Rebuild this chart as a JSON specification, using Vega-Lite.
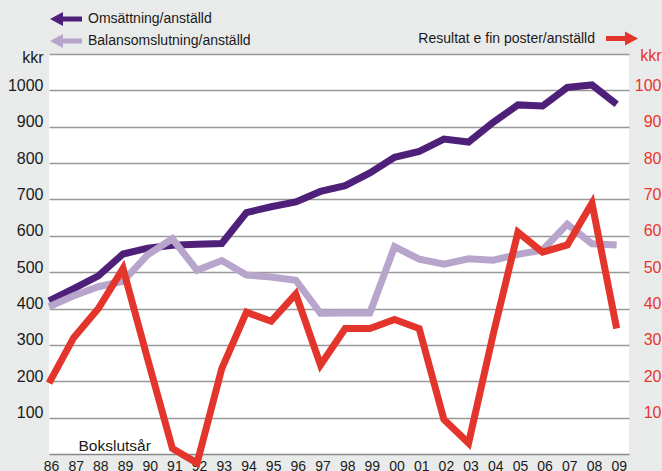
{
  "$schema": "https://vega.github.io/schema/vega-lite/v6.json",
  "width": 580,
  "height": 400,
  "autosize": {"type": "none"},
  "padding": {"left": 49, "top": 54, "right": 33, "bottom": 17},
  "background": "#e9ebea",
  "config": {"view": {"fill": "white", "stroke": null}, "font": "Liberation Sans"},
  "data": {"values": [
    {"year": 1986, "oms": 421, "bal": 405, "res": 19.5},
    {"year": 1987, "oms": 455, "bal": 435, "res": 32},
    {"year": 1988, "oms": 490, "bal": 460, "res": 40},
    {"year": 1989, "oms": 550, "bal": 475, "res": 51},
    {"year": 1990, "oms": 566, "bal": 548, "res": 26},
    {"year": 1991, "oms": 574, "bal": 592, "res": 1.5},
    {"year": 1992, "oms": 577, "bal": 505, "res": -2.5},
    {"year": 1993, "oms": 579, "bal": 532, "res": 23.5},
    {"year": 1994, "oms": 664, "bal": 492, "res": 39},
    {"year": 1995, "oms": 680, "bal": 487, "res": 36.5},
    {"year": 1996, "oms": 693, "bal": 478, "res": 44},
    {"year": 1997, "oms": 722, "bal": 387, "res": 24.5},
    {"year": 1998, "oms": 738, "bal": 388, "res": 34.5},
    {"year": 1999, "oms": 773, "bal": 388, "res": 34.5},
    {"year": 2000, "oms": 816, "bal": 570, "res": 37},
    {"year": 2001, "oms": 832, "bal": 536, "res": 34.5},
    {"year": 2002, "oms": 866, "bal": 522, "res": 9.5},
    {"year": 2003, "oms": 858, "bal": 537, "res": 3},
    {"year": 2004, "oms": 912, "bal": 533, "res": 33},
    {"year": 2005, "oms": 960, "bal": 549, "res": 61},
    {"year": 2006, "oms": 957, "bal": 561, "res": 55.5},
    {"year": 2007, "oms": 1008, "bal": 632, "res": 57.5},
    {"year": 2008, "oms": 1015, "bal": 578, "res": 69},
    {"year": 2009, "oms": 962, "bal": 575, "res": 34.5}
  ]},
  "encoding": {
    "x": {
      "field": "year", "type": "quantitative",
      "scale": {"domain": [1986, 2009.5], "nice": false, "zero": false},
      "axis": {
        "values": [1986,1987,1988,1989,1990,1991,1992,1993,1994,1995,1996,1997,1998,1999,2000,2001,2002,2003,2004,2005,2006,2007,2008,2009],
        "labelExpr": "substring(toString(datum.value), 2)",
        "domain": true, "domainColor": "#888888", "domainWidth": 1.5,
        "ticks": false, "grid": false,
        "labelFontSize": 14, "labelColor": "#1a1a1a", "labelPadding": 5,
        "labelBaseline": "top", "labelOffset": 2,
        "labelFlush": false, "labelOverlap": false,
        "title": "Bokslutsår", "titleX": 29, "titleY": -4,
        "titleAlign": "left", "titleBaseline": "alphabetic",
        "titleFontSize": 15.5, "titleFontWeight": "normal", "titleColor": "#1a1a1a"
      }
    }
  },
  "layer": [
    {
      "transform": [{"fold": ["oms", "bal"], "as": ["serie", "varde"]}],
      "mark": {"type": "line", "strokeWidth": 7, "strokeJoin": "miter", "strokeCap": "butt"},
      "encoding": {
        "y": {
          "field": "varde", "type": "quantitative",
          "scale": {"domain": [0, 1100], "nice": false, "zero": false},
          "axis": {
            "orient": "left", "title": null,
            "values": [100,200,300,400,500,600,700,800,900,1000,1100],
            "format": "d",
            "labelExpr": "datum.value == 1100 ? 'kkr' : datum.label",
            "domain": false, "ticks": false,
            "grid": true, "gridColor": "#999999", "gridWidth": 1.5,
            "labelFontSize": 16, "labelColor": "#1a1a1a",
            "labelBaseline": "alphabetic",
            "labelOffset": {"condition": {"test": "datum.value == 1100", "value": 8}, "value": 0},
            "labelPadding": 6, "labelOverlap": false
          }
        },
        "color": {
          "field": "serie", "type": "nominal",
          "scale": {"domain": ["oms", "bal"], "range": ["#4f2079", "#b8a5cc"]},
          "legend": {
            "orient": "none", "legendX": 7, "legendY": -45, "title": null,
            "labelExpr": "datum.value == 'oms' ? 'Omsättning/anställd' : 'Balansomslutning/anställd'",
            "symbolType": "M -1.6 0 L -0.3 -0.7 L -0.3 -0.25 L 1.6 -0.25 L 1.6 0.25 L -0.3 0.25 L -0.3 0.7 Z",
            "symbolSize": 400, "symbolStrokeWidth": 0,
            "labelFontSize": 14, "labelColor": "#1a1a1a", "labelOffset": 12,
            "rowPadding": 5, "padding": 0, "labelLimit": 400,
            "encode": {"symbols": {"update": {
              "fill": {"signal": "datum.value == 'oms' ? '#4f2079' : '#b8a5cc'"},
              "stroke": {"value": "transparent"}
            }}}
          }
        }
      }
    },
    {
      "mark": {"type": "line", "strokeWidth": 7, "strokeJoin": "miter", "strokeCap": "butt"},
      "encoding": {
        "y": {
          "field": "res", "type": "quantitative",
          "scale": {"domain": [0, 110], "nice": false, "zero": false},
          "axis": {
            "orient": "right", "title": null,
            "values": [10,20,30,40,50,60,70,80,90,100,110],
            "format": "d",
            "labelExpr": "datum.value == 110 ? 'kkr' : datum.label",
            "domain": false, "ticks": false, "grid": false,
            "labelFontSize": 16, "labelColor": "#e8352e",
            "labelAlign": "right", "labelPadding": 32,
            "labelBaseline": "alphabetic",
            "labelOffset": {"condition": {"test": "datum.value == 110", "value": 6}, "value": 0},
            "labelOverlap": false
          }
        },
        "color": {
          "datum": "Resultat e fin poster/anställd",
          "scale": {"domain": ["Resultat e fin poster/anställd"], "range": ["#e4352c"]},
          "legend": {
            "orient": "none", "legendX": 563, "legendY": -25.5, "title": null,
            "symbolType": "M 1.6 0 L 0.3 -0.7 L 0.3 -0.25 L -1.6 -0.25 L -1.6 0.25 L 0.3 0.25 L 0.3 0.7 Z",
            "symbolSize": 400, "symbolStrokeWidth": 0,
            "labelFontSize": 14, "labelColor": "#1a1a1a",
            "labelAlign": "right", "labelOffset": -37,
            "padding": 0, "labelLimit": 400,
            "encode": {"symbols": {"update": {
              "fill": {"value": "#e4352c"},
              "stroke": {"value": "transparent"}
            }}}
          }
        }
      }
    }
  ],
  "resolve": {"scale": {"y": "independent", "color": "independent"}}
}
